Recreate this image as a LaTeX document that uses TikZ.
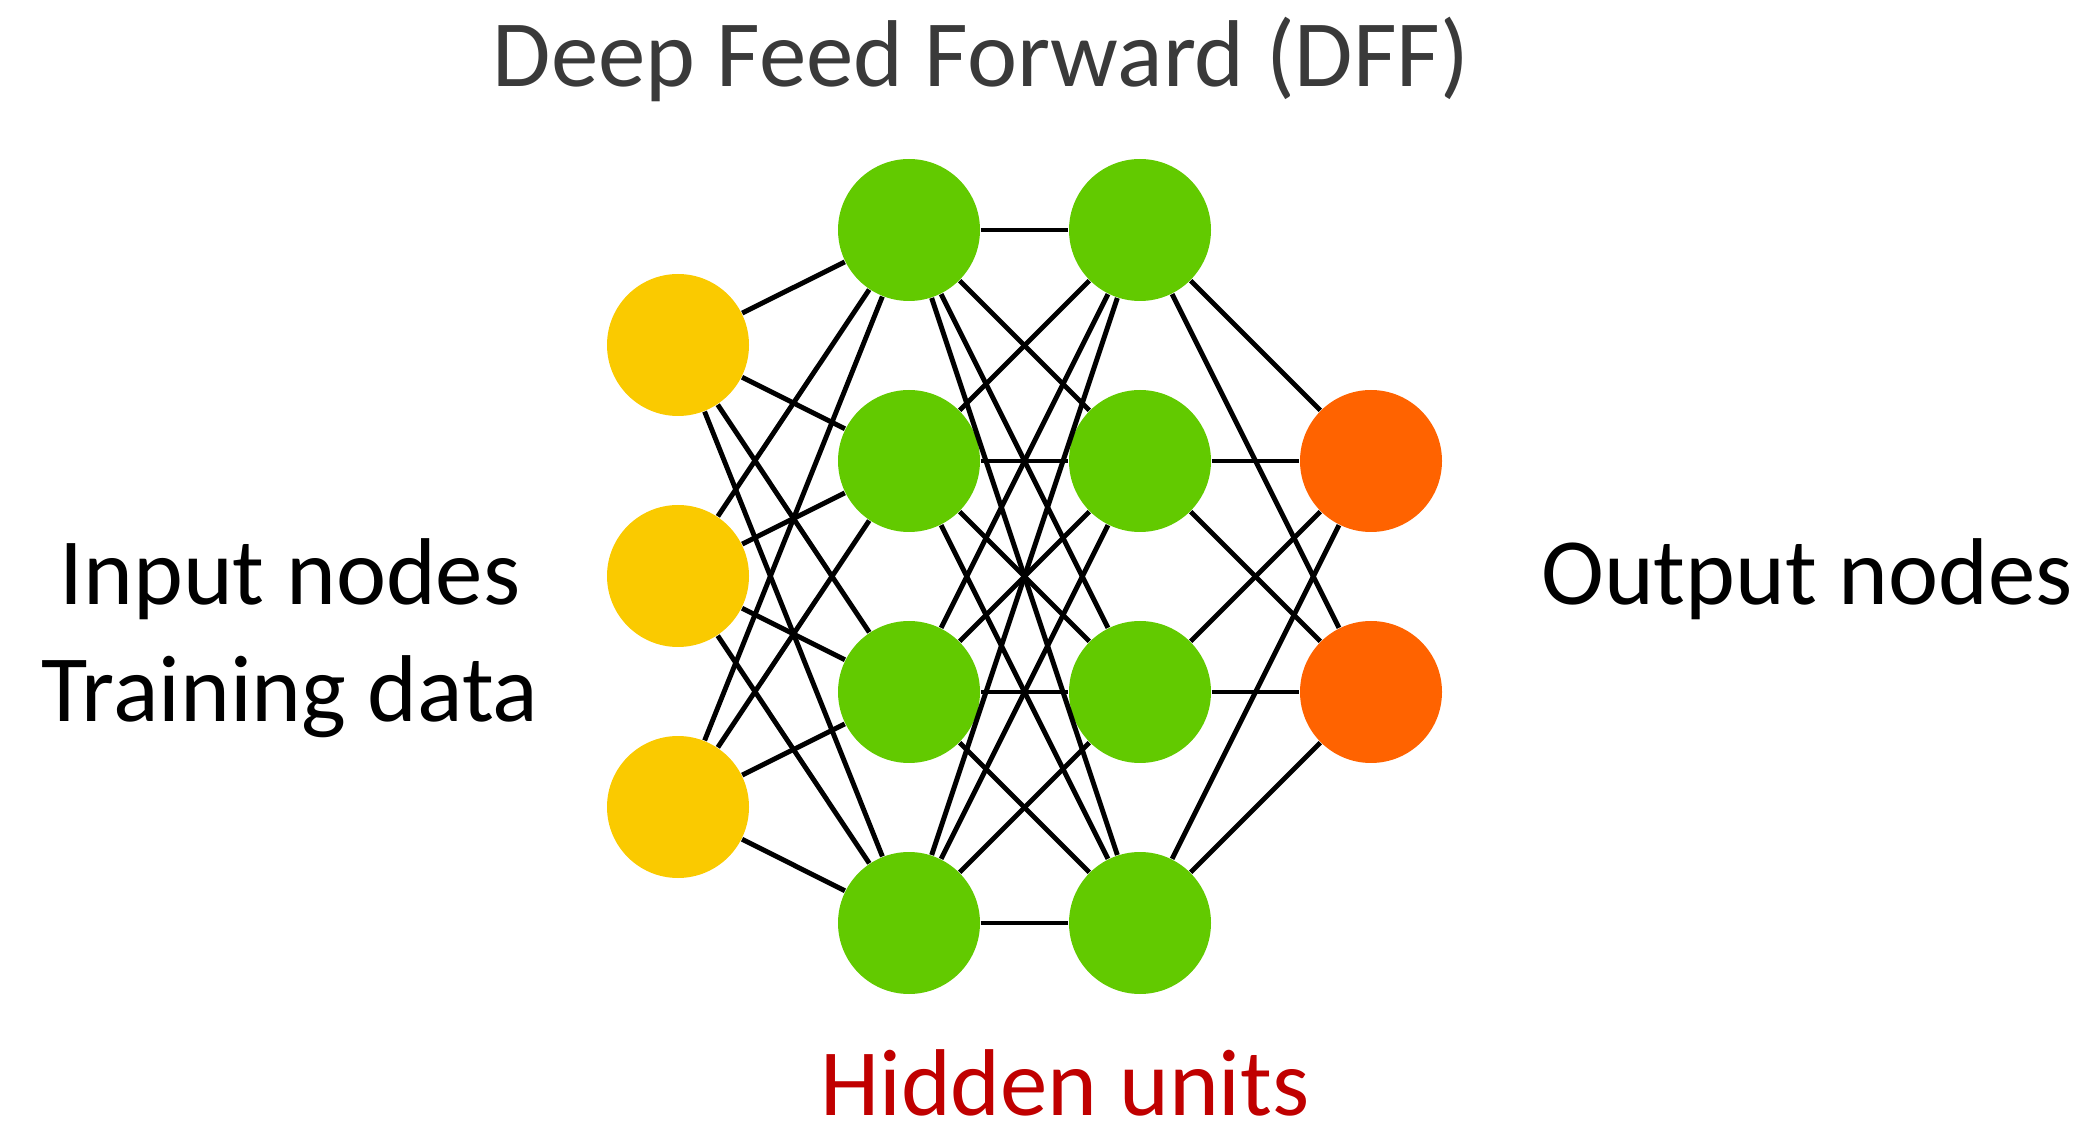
\documentclass[tikz,border=0pt]{standalone}
\usepackage{fontspec}
\setmainfont{Carlito}
\definecolor{inyellow}{HTML}{FACA00}
\definecolor{hidgreen}{HTML}{62CA00}
\definecolor{outorange}{HTML}{FF6300}
\definecolor{titlegray}{HTML}{3A3A3A}
\definecolor{hidred}{HTML}{C00000}

\begin{document}
\begin{tikzpicture}[unit/.style={circle,inner sep=0pt,minimum size=1.42cm},
                    edge/.style={line width=1.4pt},
                    lbl/.style={font=\fontsize{27}{33}\selectfont,anchor=base}]
            \useasboundingbox (0,0) rectangle (20.95,-11.35);

            \node[unit,fill=inyellow] (A1) at (6.78,-3.45) {};
            \node[unit,fill=inyellow] (A2) at (6.78,-5.76) {};
            \node[unit,fill=inyellow] (A3) at (6.78,-8.07) {};

            \node[unit,fill=hidgreen] (B1) at (9.09,-2.30) {};
            \node[unit,fill=hidgreen] (B2) at (9.09,-4.61) {};
            \node[unit,fill=hidgreen] (B3) at (9.09,-6.92) {};
            \node[unit,fill=hidgreen] (B4) at (9.09,-9.23) {};

            \node[unit,fill=hidgreen] (C1) at (11.40,-2.30) {};
            \node[unit,fill=hidgreen] (C2) at (11.40,-4.61) {};
            \node[unit,fill=hidgreen] (C3) at (11.40,-6.92) {};
            \node[unit,fill=hidgreen] (C4) at (11.40,-9.23) {};

            \node[unit,fill=outorange] (D1) at (13.71,-4.61) {};
            \node[unit,fill=outorange] (D2) at (13.71,-6.92) {};

            \foreach \i in {1,2,3} \foreach \j in {1,...,4} \draw[edge] (A\i)--(B\j);
            \foreach \i in {1,...,4} \foreach \j in {1,...,4} \draw[edge] (B\i)--(C\j);
            \foreach \i in {1,...,4} \foreach \j in {1,2} \draw[edge] (C\i)--(D\j);

            \node[lbl,text=titlegray] (title) at (9.81,-0.87) {Deep Feed Forward (DFF)};
            \node[lbl] (inp) at (2.90,-6.05) {Input nodes};
            \node[lbl] (train) at (2.90,-7.21) {Training data};
            \node[lbl] (outp) at (18.07,-6.05) {Output nodes};
            \node[lbl,text=hidred] (hid) at (10.65,-11.15) {Hidden units};
        \end{tikzpicture}
\end{document}
